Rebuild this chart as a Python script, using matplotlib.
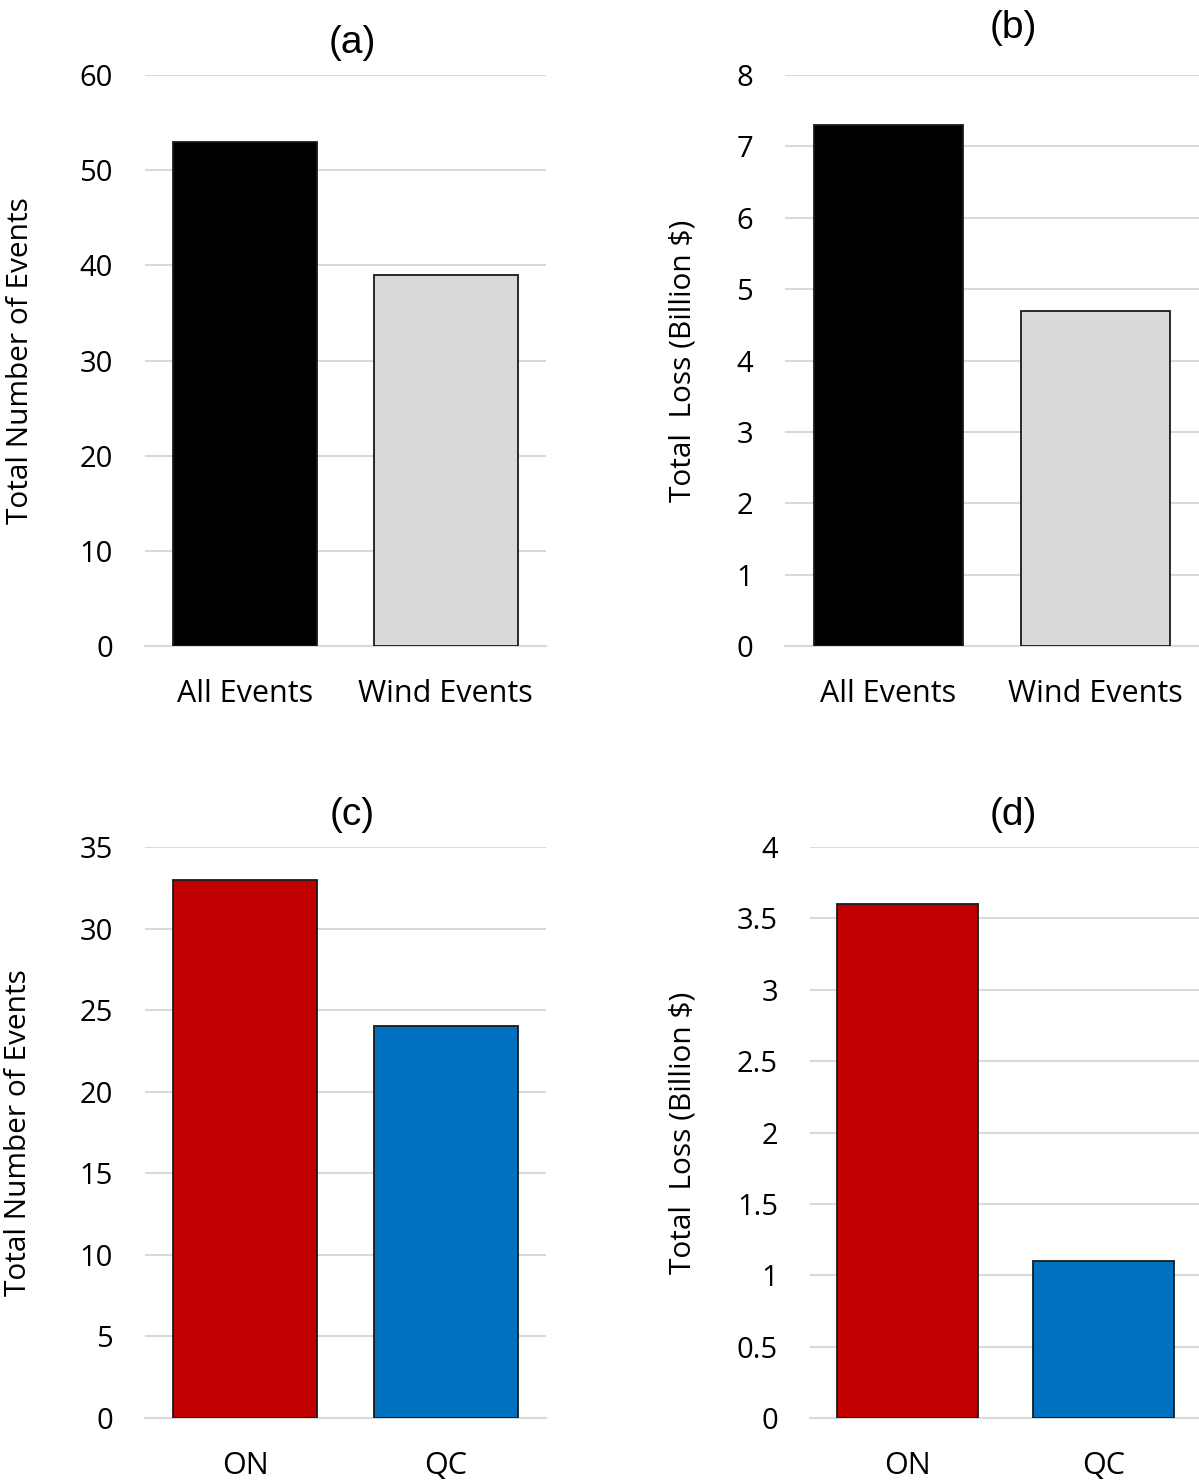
import matplotlib
matplotlib.use("Agg")
import matplotlib.pyplot as plt

plt.rcParams['font.family'] = ['Open Sans', 'DejaVu Sans']

W, H = 1199, 1484

cats_top = ["All Events", "Wind Events"]
cats_bot = ["ON", "QC"]
count_top = [53, 39]
loss_top = [7.3, 4.7]
count_bot = [33, 24]
loss_bot = [3.6, 1.1]

colors_top = ["#000000", "#d9d9d9"]
colors_bot = ["#c00000", "#0070c0"]

yt_a = [0, 10, 20, 30, 40, 50, 60]
yt_b = [0, 1, 2, 3, 4, 5, 6, 7, 8]
yt_c = [0, 5, 10, 15, 20, 25, 30, 35]
yt_d = [0, 0.5, 1, 1.5, 2, 2.5, 3, 3.5, 4]
yl_d = ["0", "0.5", "1", "1.5", "2", "2.5", "3", "3.5", "4"]

fig = plt.figure(figsize=(W / 100, H / 100), dpi=100)


def px_axes(x0, x1, ytop, ybot):
    return fig.add_axes([x0 / W, 1 - ybot / H, (x1 - x0) / W, (ybot - ytop) / H])


def panel(ax, cats, vals, colors, yticks, ylabels, ymax, title, title_xy, ylabel, ylabx):
    xs = range(len(cats))
    ax.bar(xs, vals, width=0.72, color=colors, edgecolor="#1a1a1a", linewidth=1.3, zorder=3)
    ax.set_xlim(-0.5, len(cats) - 0.5)
    ax.set_ylim(0, ymax)
    ax.set_yticks(yticks)
    ax.set_yticklabels(ylabels if ylabels else [str(t) for t in yticks])
    ax.set_xticks(list(xs))
    ax.set_xticklabels(cats)
    for s in ["top", "right", "left"]:
        ax.spines[s].set_visible(False)
    ax.spines["bottom"].set_color("#d9d9d9")
    ax.spines["bottom"].set_linewidth(1.5)
    ax.grid(axis="y", color="#d9d9d9", linewidth=1.5, zorder=0)
    ax.tick_params(axis="both", length=0, colors="#000000")
    ax.tick_params(axis="y", pad=23, labelsize=21)
    ax.tick_params(axis="x", pad=24, labelsize=22)
    fig.text(title_xy[0] / W, 1 - title_xy[1] / H, title, fontsize=28,
             family=["Liberation Sans", "DejaVu Sans"], ha="center", va="center")
    ax.set_ylabel(ylabel, fontsize=21.5)
    ax.yaxis.set_label_coords(ylabx, 0.5)


ax_a = px_axes(145, 546, 75, 646)
panel(ax_a, cats_top, count_top, colors_top, yt_a, None, 60, "(a)", (352, 43), "Total Number of Events", -0.274)
ax_b = px_axes(785, 1199, 75, 646)
panel(ax_b, cats_top, loss_top, colors_top, yt_b, None, 8, "(b)", (1013, 28), "Total  Loss (Billion $)", -0.212)
ax_c = px_axes(145, 546, 847, 1418)
panel(ax_c, cats_bot, count_bot, colors_bot, yt_c, None, 35, "(c)", (352, 815), "Total Number of Events", -0.279)
ax_d = px_axes(810, 1201, 847, 1418)
panel(ax_d, cats_bot, loss_bot, colors_bot, yt_d, yl_d, 4, "(d)", (1013, 815), "Total  Loss (Billion $)", -0.289)

fig.savefig("out.png", dpi=100, facecolor="white")
